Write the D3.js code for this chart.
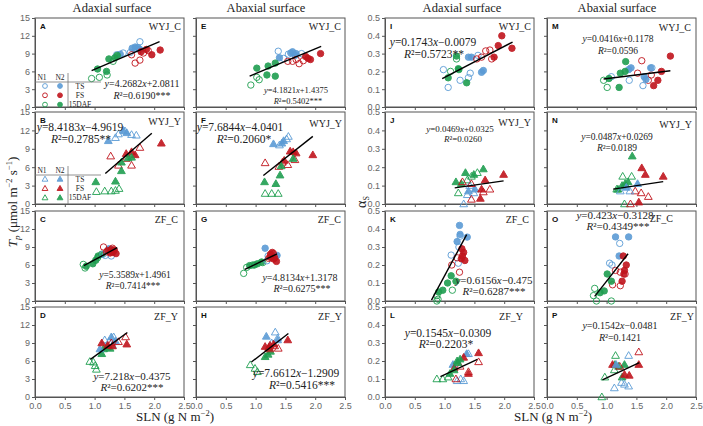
<!DOCTYPE html>
<meta charset="utf-8">
<style>
body { margin: 0; background: #fff; }
svg { display: block; }
.tick text { font-family: "Liberation Sans", Arial, sans-serif; font-size: 9px; fill: #666; }
.tick line, .domain { stroke: #555; }
.serif { font-family: "Liberation Serif", "Times New Roman", serif; fill: #222; }
</style>
<svg width="703" height="426"></svg>
<script src="https://d3js.org/d3.v7.min.js"></script>
<script>

// ---- data ----
var panelIds = ["A","B","C","D","E","F","G","H","I","J","K","L","M","N","O","P"];
var cultivars = ["WYJ_C","WYJ_Y","ZF_C","ZF_Y"];
var surfaces = ["Adaxial surface","Abaxial surface","Adaxial surface","Abaxial surface"];
var tpTicks = [0,3,6,9,12,15];
var asTicks = [0,0.1,0.2,0.3,0.4,0.5];
var slnTicks = [0,0.5,1,1.5,2,2.5];

var eqText = ["y=4.2682x+2.0811","y=8.4183x−4.9619","y=5.3589x+1.4961","y=7.218x−0.4375",
              "y=4.1821x+1.4375","y=7.6844x−4.0401","y=4.8134x+1.3178","y=7.6612x−1.2909",
              "y=0.1743x−0.0079","y=0.0469x+0.0325","y=0.6156x−0.475","y=0.1545x−0.0309",
              "y=0.0416x+0.1178","y=0.0487x+0.0269","y=0.423x−0.3128","y=0.1542x−0.0481"];
var r2Text = ["R²=0.6190***","R²=0.2785**","R²=0.7414***","R²=0.6202***",
              "R²=0.5402***","R²=0.2060*","R²=0.6275***","R²=0.5416***",
              "R²=0.5723**","R²=0.0260","R²=0.6287***","R²=0.2203*",
              "R²=0.0596","R²=0.0189","R²=0.4349***","R²=0.1421"];
var slopes =     [4.2682, 8.4183, 5.3589, 7.218, 4.1821, 7.6844, 4.8134, 7.6612,
                  0.1743, 0.0469, 0.6156, 0.1545, 0.0416, 0.0487, 0.423, 0.1542];
var intercepts = [2.0811,-4.9619, 1.4961,-0.4375, 1.4375,-4.0401, 1.3178,-1.2909,
                 -0.0079, 0.0325,-0.475,-0.0309, 0.1178, 0.0269,-0.3128,-0.0481];
var lineRanges = [[0.95,2.09],[1.18,1.96],[0.82,1.38],[0.93,1.55],
                  [0.90,2.10],[1.13,1.96],[0.82,1.36],[0.93,1.55],
                  [0.96,2.14],[1.17,1.99],[0.78,1.37],[0.93,1.55],
                  [0.95,2.07],[1.11,1.95],[0.80,1.36],[0.93,1.55]];

// points: [stage, N level, SLN, value]
var ptsA = [["TS",1,1.76,11.0],["TS",1,1.48,9.1],["TS",1,1.37,8.8],["TS",1,1.69,9.8],["TS",1,1.60,9.2],
  ["TS",2,1.68,10.1],["TS",2,1.73,10.0],["TS",2,1.63,9.9],["TS",2,1.43,8.9],["TS",2,1.76,9.7],
  ["FS",1,1.68,7.4],["FS",1,1.76,7.9],["FS",1,1.62,8.8],["FS",1,1.82,9.1],["FS",1,1.90,9.5],
  ["FS",2,1.87,9.7],["FS",2,2.10,9.6],["FS",2,1.96,8.8],["FS",2,1.78,9.3],
  ["DAF",1,0.95,4.8],["DAF",1,1.08,5.0],["DAF",1,1.21,5.4],["DAF",1,1.31,7.7],
  ["DAF",2,1.24,8.1],["DAF",2,1.34,8.3],["DAF",2,1.38,8.7],["DAF",2,1.05,6.4],["DAF",2,1.20,6.0]];
var ptsB = [["TS",1,1.40,11.4],["TS",1,1.51,11.9],["TS",1,1.62,11.3],["TS",1,1.70,11.2],["TS",1,1.35,10.8],
  ["TS",2,1.23,10.3],["TS",2,1.48,12.0],["TS",2,1.54,11.6],
  ["FS",1,1.27,7.8],["FS",1,1.40,6.3],["FS",1,1.62,6.3],["FS",1,1.76,9.2],["FS",1,1.53,7.4],
  ["FS",2,1.53,8.2],["FS",2,1.68,8.0],["FS",2,2.12,9.9],["FS",2,1.62,8.5],
  ["DAF",1,1.03,2.0],["DAF",1,1.17,2.1],["DAF",1,1.28,2.1],["DAF",1,1.35,2.2],["DAF",1,1.41,2.5],
  ["DAF",2,1.02,3.6],["DAF",2,1.35,3.7],["DAF",2,1.45,5.4],["DAF",2,1.45,6.8],["DAF",2,1.56,7.5],["DAF",2,1.62,7.6]];
var ptsC = [["DAF",1,0.81,6.1],["DAF",1,0.84,5.5],["DAF",1,1.05,7.2],
  ["DAF",2,0.97,6.2],["DAF",2,1.06,7.5],["DAF",2,1.12,7.8],["DAF",2,0.86,5.8],["DAF",2,1.02,6.8],
  ["TS",1,1.18,7.6],["TS",1,1.14,7.8],["TS",1,1.28,7.5],["TS",2,1.24,8.7],["TS",2,1.32,8.3],
  ["FS",1,1.15,9.0],["FS",1,1.20,8.2],["FS",1,1.30,8.8],
  ["FS",2,1.22,8.4],["FS",2,1.28,8.6],["FS",2,1.30,8.1],["FS",2,1.33,8.5],["FS",2,1.36,7.9],["FS",2,1.26,8.0]];
var ptsD = [["DAF",1,0.92,5.9],["DAF",1,0.98,5.8],["DAF",1,1.03,4.6],["DAF",1,1.01,5.2],
  ["DAF",2,1.12,7.2],["DAF",2,1.15,8.0],["DAF",2,1.21,8.3],["DAF",2,1.26,8.1],
  ["TS",1,1.30,8.6],["TS",1,1.32,10.0],["TS",1,1.24,9.2],["TS",1,1.17,9.5],
  ["TS",2,1.28,10.0],["TS",2,1.09,8.0],["TS",2,1.35,9.3],
  ["FS",1,1.52,10.0],["FS",1,1.40,9.2],["FS",1,1.28,9.0],
  ["FS",2,1.12,9.0],["FS",2,1.54,8.8],["FS",2,1.30,8.5],["FS",2,1.22,8.6]];
var ptsE = [["TS",1,1.38,9.4],["TS",1,1.47,8.2],["TS",1,1.77,9.0],["TS",1,1.55,8.9],
  ["TS",2,1.40,8.3],["TS",2,1.59,9.1],["TS",2,1.62,9.3],["TS",2,1.68,9.0],["TS",2,1.66,8.7],
  ["FS",1,1.73,7.3],["FS",1,1.62,7.7],["FS",1,1.54,7.7],["FS",1,1.80,7.8],["FS",1,1.68,8.0],
  ["FS",2,1.84,8.5],["FS",2,1.92,8.0],["FS",2,2.09,9.0],["FS",2,1.88,8.2],
  ["DAF",1,0.92,3.7],["DAF",1,1.06,4.6],["DAF",1,1.02,5.0],
  ["DAF",2,1.02,6.55],["DAF",2,1.21,6.9],["DAF",2,1.33,7.4],["DAF",2,1.19,5.4],["DAF",2,1.33,5.2]];
var ptsF = [["TS",1,1.40,9.6],["TS",1,1.55,11.0],["TS",1,1.52,10.6],
  ["TS",2,1.47,10.3],["TS",2,1.44,9.9],["TS",2,1.30,9.8],
  ["FS",1,1.16,6.7],["FS",1,1.39,6.1],["FS",1,1.54,6.4],["FS",1,1.66,7.2],["FS",1,1.45,6.8],
  ["FS",2,1.63,8.5],["FS",2,1.68,8.3],["FS",2,1.96,8.0],["FS",2,1.48,7.1],["FS",2,1.58,8.6],
  ["DAF",1,1.16,1.7],["DAF",1,1.27,1.7],["DAF",1,1.38,1.7],
  ["DAF",2,1.15,3.6],["DAF",2,1.34,3.3],["DAF",2,1.41,4.7],["DAF",2,1.43,6.2],["DAF",2,1.63,7.4]];
var ptsG = [["DAF",1,0.80,4.6],["DAF",1,0.85,5.6],["DAF",1,1.12,6.4],["DAF",1,0.95,6.0],
  ["DAF",2,0.90,5.9],["DAF",2,1.03,6.2],["DAF",2,0.98,6.0],["DAF",2,1.10,6.5],
  ["TS",1,1.21,7.5],["TS",1,1.19,6.7],["TS",2,1.16,8.8],["TS",2,1.36,7.6],["TS",2,1.28,7.4],
  ["FS",1,1.22,7.1],["FS",1,1.30,7.9],
  ["FS",2,1.25,7.8],["FS",2,1.28,8.1],["FS",2,1.32,7.2],["FS",2,1.35,6.6],["FS",2,1.30,7.0],["FS",2,1.24,7.3]];
var ptsH = [["DAF",1,0.91,5.35],["DAF",1,0.99,4.75],["DAF",1,1.03,4.2],
  ["DAF",2,1.16,6.7],["DAF",2,1.21,7.1],["DAF",2,1.25,7.6],
  ["TS",1,1.33,10.8],["TS",1,1.27,9.0],["TS",1,1.37,9.8],["TS",2,1.18,10.1],["TS",2,1.37,9.5],
  ["FS",1,1.24,8.0],["FS",1,1.38,8.1],["FS",1,1.32,8.5],
  ["FS",2,1.54,9.5],["FS",2,1.16,8.4],["FS",2,1.24,8.6],["FS",2,1.30,8.8],["FS",2,1.22,8.2]];
var ptsI = [["TS",1,0.98,0.21],["TS",1,1.06,0.11],["TS",1,1.26,0.15],["TS",1,1.40,0.165],["TS",1,1.43,0.19],["TS",1,1.56,0.29],
  ["TS",2,1.65,0.205],["TS",2,1.62,0.195],["TS",2,1.45,0.28],["TS",2,1.40,0.28],
  ["FS",1,1.69,0.315],["FS",1,1.76,0.32],["FS",1,1.79,0.27],["FS",1,1.62,0.28],["FS",1,1.54,0.27],
  ["FS",2,1.96,0.40],["FS",2,1.90,0.345],["FS",2,2.13,0.33],["FS",2,1.83,0.28],
  ["DAF",1,1.10,0.20],["DAF",1,1.20,0.27],
  ["DAF",2,1.20,0.286],["DAF",2,1.23,0.215],["DAF",2,1.06,0.164],["DAF",2,1.37,0.136],["DAF",2,1.24,0.21]];
var ptsJ = [["DAF",2,1.19,0.12],["DAF",2,1.35,0.17],["DAF",2,1.49,0.16],["DAF",2,1.65,0.19],["DAF",2,1.28,0.11],
  ["DAF",1,1.23,0.06],["DAF",1,1.38,0.13],["DAF",1,1.55,0.17],["DAF",1,1.45,0.15],
  ["TS",1,1.32,0.0],["TS",1,1.38,0.05],["TS",1,1.49,0.06],["TS",1,1.42,0.10],["TS",2,1.51,0.08],["TS",2,1.40,0.07],
  ["FS",2,1.99,0.16],["FS",2,1.60,0.03],["FS",2,1.62,0.08],["FS",2,1.68,0.13],
  ["FS",1,1.30,0.12],["FS",1,1.65,0.065],["FS",1,1.76,0.08],["FS",1,1.45,0.025],["FS",1,1.45,0.11]];
var ptsK = [["TS",2,1.25,0.42],["TS",2,1.26,0.37],["TS",2,1.21,0.33],["TS",2,1.38,0.355],
  ["TS",1,1.24,0.30],["TS",1,1.23,0.21],["TS",1,1.11,0.255],["TS",1,1.26,0.36],
  ["FS",2,1.29,0.29],["FS",2,1.32,0.27],["FS",2,1.28,0.235],["FS",2,1.34,0.225],["FS",2,1.30,0.25],
  ["FS",1,1.12,0.20],["FS",1,1.25,0.16],["FS",1,1.21,0.24],
  ["DAF",2,1.11,0.14],["DAF",2,1.05,0.10],["DAF",2,1.19,0.11],["DAF",2,0.97,0.06],["DAF",2,0.90,0.05],
  ["DAF",1,0.87,0.0],["DAF",1,0.89,0.01],["DAF",1,1.13,0.06],["DAF",1,0.87,0.03]];
var ptsL = [["TS",1,1.21,0.09],["TS",1,1.32,0.09],["TS",1,1.27,0.10],["TS",1,1.40,0.24],
  ["TS",2,1.37,0.24],["TS",2,1.14,0.18],
  ["FS",2,1.57,0.245],["FS",2,1.32,0.22],["FS",2,1.16,0.16],["FS",2,1.40,0.13],
  ["FS",1,1.57,0.195],["FS",1,1.19,0.10],["FS",1,1.40,0.14],["FS",1,1.26,0.17],
  ["DAF",2,1.21,0.20],["DAF",2,1.26,0.21],["DAF",2,1.09,0.13],["DAF",2,1.16,0.15],["DAF",2,1.22,0.19],
  ["DAF",1,0.97,0.10],["DAF",1,0.87,0.10],["DAF",1,1.06,0.11]];
var ptsM = [["FS",2,2.07,0.286],["FS",2,1.92,0.20],["FS",2,1.86,0.15],["FS",2,1.79,0.12],
  ["FS",1,1.59,0.26],["FS",1,1.75,0.18],["FS",1,1.70,0.15],["FS",1,1.52,0.19],
  ["TS",2,1.41,0.22],["TS",2,1.37,0.21],["TS",2,1.74,0.22],["TS",2,1.63,0.17],["TS",2,1.66,0.155],
  ["TS",1,1.76,0.22],["TS",1,1.38,0.15],["TS",1,1.61,0.12],["TS",1,1.08,0.17],
  ["DAF",2,1.32,0.255],["DAF",2,1.31,0.20],["DAF",2,1.23,0.19],["DAF",2,1.04,0.16],["DAF",2,1.21,0.11],
  ["DAF",1,0.95,0.15],["DAF",1,1.01,0.11]];
var ptsN = [["DAF",2,1.43,0.26],["DAF",2,1.19,0.08],["DAF",2,1.31,0.11],["DAF",2,1.26,0.10],["DAF",2,1.36,0.12],
  ["DAF",1,1.27,0.15],["DAF",1,1.42,0.15],["DAF",1,1.30,0.0],["DAF",1,1.17,0.08],
  ["FS",2,1.59,0.196],["FS",2,1.65,0.16],["FS",2,1.95,0.15],["FS",2,1.54,0.01],
  ["FS",1,1.58,0.06],["FS",1,1.70,0.04],["FS",1,1.40,0.0],["FS",1,1.48,0.07],
  ["TS",1,1.23,0.07],["TS",1,1.39,0.07],["TS",2,1.52,0.11],["TS",2,1.33,0.09]];
var ptsO = [["TS",2,1.15,0.356],["TS",2,1.37,0.356],["TS",2,1.21,0.25],
  ["TS",1,1.22,0.32],["TS",1,1.05,0.21],["TS",1,1.09,0.20],
  ["FS",2,1.28,0.25],["FS",2,1.33,0.20],["FS",2,1.29,0.15],["FS",2,1.26,0.11],["FS",2,1.30,0.17],
  ["FS",1,1.15,0.17],["FS",1,1.23,0.16],["FS",1,1.31,0.15],["FS",1,1.23,0.085],["FS",1,1.10,0.09],
  ["DAF",2,1.01,0.15],["DAF",2,1.08,0.11],["DAF",2,0.96,0.056],["DAF",2,0.89,0.046],
  ["DAF",1,0.80,0.07],["DAF",1,0.78,0.03],["DAF",1,0.83,0.0],["DAF",1,1.08,0.0]];
var ptsP = [["DAF",1,1.15,0.23],["DAF",1,0.97,0.11],["DAF",1,0.92,0.0],["DAF",1,1.13,0.15],
  ["DAF",2,1.14,0.18],["DAF",2,1.30,0.18],["DAF",2,1.26,0.11],["DAF",2,1.20,0.17],
  ["FS",1,1.54,0.25],["FS",1,1.22,0.17],
  ["FS",2,1.54,0.18],["FS",2,1.30,0.125],["FS",2,1.38,0.12],["FS",2,1.10,0.18],
  ["TS",1,1.37,0.23],["TS",1,1.13,0.05],["TS",1,1.25,0.08],["TS",1,1.30,0.07],["TS",1,1.37,0.06],
  ["TS",2,1.16,0.18]];
var allPts = [ptsA,ptsB,ptsC,ptsD,ptsE,ptsF,ptsG,ptsH,ptsI,ptsJ,ptsK,ptsL,ptsM,ptsN,ptsO,ptsP];
var legendStages = ["TS","FS","DAF"];
var legendNames = ["TS","FS","15DAF"];

// ---- layout ----
var colX = [35, 196, 385, 547], panelW = 149;
var rowTop = [18, 112, 211, 307], rowBot = [107, 204, 301, 397];
var color = {TS: "#5b9bd5", FS: "#c0141c", DAF: "#1f9e50"};
// [eq x, eq y, r2 x, r2 y, font size, cultivar right x, cultivar y]
var annot = [
  [142,87,142,99,10,181,30],[80,131,81,143,11.5,181,125],[135,278,133,289,9.5,178,223],[132,380,132,391,11,178,320],
  [296,93,298,104,8.5,341,30],[240,131,244,143,11.5,342,127],[300,281,302,292,10,341,223],[296,377,302,389,11.5,342,320],
  [433,46,434,58,11.5,531,30],[460,132,463,142,9,531,126],[494,284,494,295,11,529,223],[448,337,446,348,11.5,523,320],
  [618,42,618,54,9.5,691,31],[617,140,617,151,9.5,692,128],[615,219,618,230,11,673,222],[620,329,620,341,10,694,320]];

var svg = d3.select("svg");

function rich(sel, str) {
  var re = /([xyR])|([^xyR]+)/g, m;
  while ((m = re.exec(str))) {
    sel.append("tspan").attr("font-style", m[1] ? "italic" : null).text(m[0]);
  }
}

function marker(g, stage, n, tri, cx, cy, s) {
  var c = color[stage];
  var el;
  if (tri) {
    el = g.append("path").attr("d", d3.symbol(d3.symbolTriangle, 26 * s * s)())
      .attr("transform", "translate(" + cx + "," + (cy + 0.5) + ")");
  } else {
    el = g.append("circle").attr("cx", cx).attr("cy", cy).attr("r", 3.2 * s);
  }
  el.attr("stroke", c).attr("stroke-width", 1)
    .attr("fill", n == 2 ? c : "none").attr("opacity", 0.9);
}

panelIds.forEach(function(id, i) {
  var col = Math.floor(i / 4), row = i % 4;
  var x0 = colX[col], yT = rowTop[row], yB = rowBot[row];
  var isTp = col < 2, tri = row % 2 == 1;
  var x = d3.scaleLinear().domain([0, 2.5]).range([x0, x0 + panelW]);
  var y = d3.scaleLinear().domain(isTp ? [0, 15] : [0, 0.5]).range([yB, yT]);
  var g = svg.append("g");

  g.append("g").attr("transform", "translate(0," + yB + ")")
    .call(d3.axisBottom(x).tickValues(slnTicks).tickSize(3).tickSizeOuter(0)
      .tickFormat(row == 3 ? d3.format(".1f") : ""));
  g.append("g").attr("transform", "translate(" + x0 + ",0)")
    .call(d3.axisLeft(y).tickValues(isTp ? tpTicks : asTicks).tickSize(3).tickSizeOuter(0).tickPadding(2)
      .tickFormat(col % 2 == 0 ? (isTp ? d3.format("d") : d3.format(".1f")) : ""));
  g.append("rect").attr("x", x0).attr("y", yT).attr("width", panelW).attr("height", yB - yT)
    .attr("fill", "none").attr("stroke", "#555").attr("stroke-width", 1);

  allPts[i].forEach(function(p) {
    marker(g, p[0], p[1], tri, x(p[2]), y(p[3]), 1);
  });

  var lr = lineRanges[i];
  g.append("line")
    .attr("x1", x(lr[0])).attr("y1", y(slopes[i] * lr[0] + intercepts[i]))
    .attr("x2", x(lr[1])).attr("y2", y(slopes[i] * lr[1] + intercepts[i]))
    .attr("stroke", "#000").attr("stroke-width", 1.4);

  g.append("text").attr("x", x0 + 5).attr("y", yT + 11)
    .attr("font-family", "Liberation Sans, Arial, sans-serif").attr("font-weight", "bold")
    .attr("font-size", 8).attr("fill", "#111").text(id);

  var a = annot[i];
  g.append("text").attr("class", "serif").attr("x", a[5]).attr("y", a[6])
    .attr("text-anchor", "end").attr("font-size", 10).text(cultivars[row]);
  var t1 = g.append("text").attr("class", "serif").attr("x", a[0]).attr("y", a[1])
    .attr("text-anchor", "middle").attr("font-size", a[4]);
  rich(t1, eqText[i]);
  var t2 = g.append("text").attr("class", "serif").attr("x", a[2]).attr("y", a[3])
    .attr("text-anchor", "middle").attr("font-size", a[4]);
  rich(t2, r2Text[i]);

  // legend table in A and B
  if (i < 2) {
    var base = i == 0 ? 80 : 173;
    var lg = g.append("g");
    lg.append("line").attr("x1", x0).attr("x2", x0 + 66).attr("y1", base + 2).attr("y2", base + 2)
      .attr("stroke", "#777").attr("stroke-width", 0.8);
    lg.append("line").attr("x1", x0 + 33).attr("x2", x0 + 33).attr("y1", base - 7).attr("y2", yB)
      .attr("stroke", "#777").attr("stroke-width", 0.8);
    lg.append("text").attr("class", "serif").attr("x", x0 + 7).attr("y", base)
      .attr("text-anchor", "middle").attr("font-size", 7.5).text("N1");
    lg.append("text").attr("class", "serif").attr("x", x0 + 25).attr("y", base)
      .attr("text-anchor", "middle").attr("font-size", 7.5).text("N2");
    legendStages.forEach(function(s, k) {
      var ly = base + 6 + k * 9.3;
      marker(lg, s, 1, tri, x0 + 10, ly, 0.75);
      marker(lg, s, 2, tri, x0 + 25, ly, 0.75);
      lg.append("text").attr("class", "serif").attr("x", x0 + 45).attr("y", ly + 2.5)
        .attr("text-anchor", "middle").attr("font-size", 7.5).text(legendNames[k]);
    });
  }
});

// column headers
[112, 266, 462, 617].forEach(function(cx, k) {
  svg.append("text").attr("class", "serif").attr("x", cx).attr("y", 12)
    .attr("text-anchor", "middle").attr("font-size", 12.5).text(surfaces[k]);
});

// x axis titles
[175, 553].forEach(function(cx) {
  var t = svg.append("text").attr("class", "serif").attr("x", cx).attr("y", 421)
    .attr("text-anchor", "middle").attr("font-size", 13);
  t.append("tspan").text("SLN (g N m");
  t.append("tspan").attr("font-size", 8.5).attr("dy", -5).text("−2");
  t.append("tspan").attr("dy", 5).text(")");
});

// y axis titles
var yt = svg.append("text").attr("class", "serif")
  .attr("transform", "translate(17,202) rotate(-90)")
  .attr("text-anchor", "middle").attr("font-size", 13);
yt.append("tspan").attr("font-style", "italic").text("T");
yt.append("tspan").attr("font-style", "italic").attr("font-size", 9).attr("dy", 3).text("p");
yt.append("tspan").attr("dy", -3).text(" (μmol m");
yt.append("tspan").attr("font-size", 8.5).attr("dy", -5).text("−2");
yt.append("tspan").attr("dy", 5).text(" s");
yt.append("tspan").attr("font-size", 8.5).attr("dy", -5).text("−1");
yt.append("tspan").attr("dy", 5).text(")");

var at = svg.append("text").attr("class", "serif")
  .attr("transform", "translate(366,202) rotate(-90)")
  .attr("text-anchor", "middle").attr("font-size", 14);
at.append("tspan").text("α");
at.append("tspan").attr("font-size", 8).attr("dy", 3).text("S");

</script>
